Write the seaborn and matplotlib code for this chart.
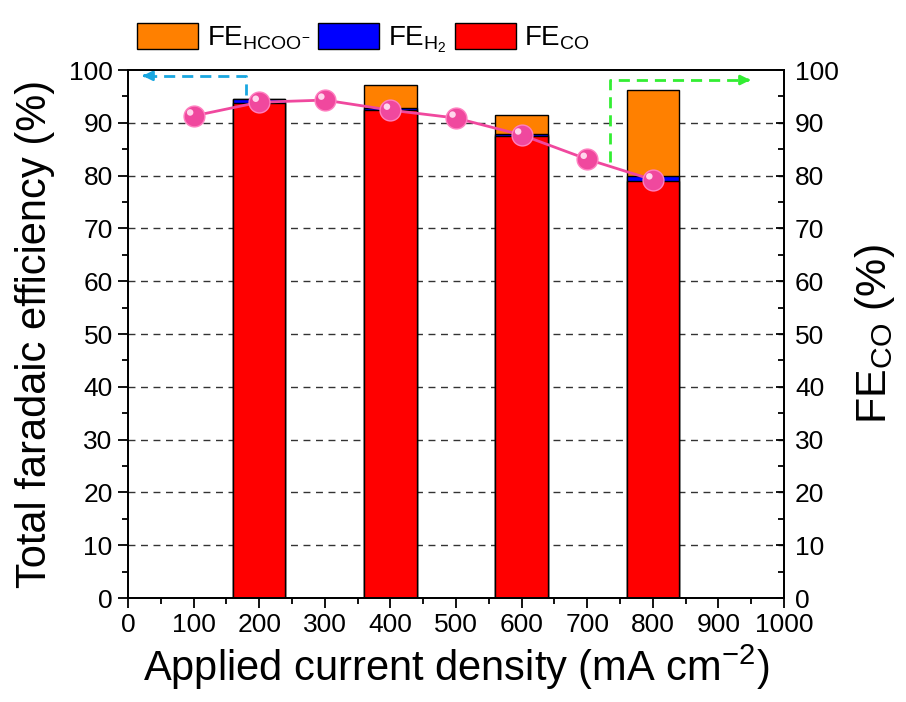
import numpy as np
import pandas as pd
import matplotlib
matplotlib.use("Agg")
import matplotlib.pyplot as plt
import matplotlib.transforms as mtransforms
from matplotlib.patches import Patch
import seaborn as sns

# Faradaic efficiencies at each applied current density (mA cm-2)
bar_density = [200, 400, 600, 800]
fe_co_bar = [93.8, 92.4, 87.5, 79.0]
fe_h2 = [0.8, 0.4, 0.4, 0.9]
fe_hcoo = [0.0, 4.4, 3.5, 16.4]

line_density = [100, 200, 300, 400, 500, 600, 700, 800]
fe_co_line = [91.3, 93.9, 94.3, 92.4, 90.9, 87.7, 83.1, 79.2]

x_ticks = [0, 100, 200, 300, 400, 500, 600, 700, 800, 900, 1000]
y_ticks = [0, 10, 20, 30, 40, 50, 60, 70, 80, 90, 100]

sns.set_theme(style="ticks")
plt.rcParams["font.family"] = ["Liberation Sans", "DejaVu Sans"]
plt.rcParams["mathtext.fontset"] = "custom"
plt.rcParams["mathtext.rm"] = "Liberation Sans"
plt.rcParams["mathtext.it"] = "Liberation Sans:italic"
plt.rcParams["mathtext.bf"] = "Liberation Sans:bold"
for key in ["text.color", "axes.labelcolor", "xtick.color", "ytick.color", "axes.edgecolor"]:
    plt.rcParams[key] = "black"

c_hcoo, c_h2, c_co = "#ff8000", "#0000ff", "#ff0000"

df = pd.DataFrame({
    "j": bar_density,
    "co": fe_co_bar,
    "co_h2": np.add(fe_co_bar, fe_h2),
    "total": np.add(np.add(fe_co_bar, fe_h2), fe_hcoo),
})

fig = plt.figure(figsize=(9.06, 7.02), dpi=100)
ax = fig.add_axes([128 / 906, 1 - 598 / 702, 656 / 906, 528 / 702])

# stacked bars drawn as overlaid cumulative totals
for col, color in [("total", c_hcoo), ("co_h2", c_h2), ("co", c_co)]:
    sns.barplot(data=df, x="j", y=col, native_scale=True, width=0.4,
                color=color, saturation=1, edgecolor="black", linewidth=1.0,
                ax=ax, zorder=2)

ax.set_xlim(0, 1000)
ax.set_ylim(0, 100)
ax.set_xticks(x_ticks)
ax.set_xticks(np.arange(50, 1000, 100), minor=True)
ax.set_yticks(y_ticks)
ax.set_yticks(np.arange(5, 100, 10), minor=True)
ax.set_xticklabels([str(t) for t in x_ticks], fontsize=19)
ax.set_yticklabels([str(t) for t in y_ticks], fontsize=19)
ax.tick_params(axis="both", which="major", direction="out", length=7, width=1.3, color="black", pad=4)
ax.tick_params(axis="both", which="minor", direction="out", length=4, width=1.3, color="black")
ax.set_axisbelow(True)
for yv in range(10, 100, 10):
    ax.axhline(yv, color="#333333", linestyle=(0, (5, 4)), linewidth=1.0, zorder=0.5)
for s in ax.spines.values():
    s.set_linewidth(1.3)
    s.set_color("black")
ax.set_xlabel(r"Applied current density (mA cm$^{\mathregular{-2}}$)", fontsize=30, labelpad=4)
ax.set_ylabel("Total faradaic efficiency (%)", fontsize=30, labelpad=10)

# CO selectivity on the right axis
ax2 = ax.twinx()
ax2.set_ylim(0, 100)
ax2.set_yticks(y_ticks)
ax2.set_yticks(np.arange(5, 100, 10), minor=True)
ax2.set_yticklabels([str(t) for t in y_ticks], fontsize=19)
ax2.tick_params(axis="y", which="major", direction="in", length=6, width=1.3, pad=8, color="black")
ax2.tick_params(axis="y", which="minor", direction="in", length=4, width=1.3, color="black")
for s in ax2.spines.values():
    s.set_linewidth(1.3)
    s.set_color("black")
ax2.set_ylabel(r"FE$_{\mathregular{CO}}$ (%)", fontsize=31, labelpad=10)

line_df = pd.DataFrame({"j": line_density, "fe": fe_co_line})
sns.lineplot(data=line_df, x="j", y="fe", ax=ax2, color="#f0489e", linewidth=2.0,
             marker="o", markersize=15, markerfacecolor="#f0489e",
             markeredgecolor="#ff7fc0", markeredgewidth=1.0, zorder=5)
# glossy highlight on each marker
hl = mtransforms.offset_copy(ax2.transData, fig=fig, x=-2.5, y=2.5, units="points")
ax2.scatter(line_density, fe_co_line, s=22, color="#ffd6ec", edgecolors="none",
            transform=hl, zorder=6)
ax2.set_xlabel("")
ax2.set_xlim(0, 1000)

# axis pointers
ax.plot([180, 180, 24], [95.2, 98.9, 98.9], color="#1aa7e0", linestyle=(0, (4, 2.5)),
        linewidth=2.0, zorder=4, clip_on=False)
ax.annotate("", xy=(18, 98.9), xytext=(30, 98.9),
            arrowprops=dict(arrowstyle="-|>", color="#1aa7e0", lw=2.0, mutation_scale=14))
ax.plot([735, 735, 945], [82.6, 98.1, 98.1], color="#33ee33", linestyle=(0, (4, 2.5)),
        linewidth=2.0, zorder=4, clip_on=False)
ax.annotate("", xy=(953, 98.1), xytext=(940, 98.1),
            arrowprops=dict(arrowstyle="-|>", color="#33ee33", lw=2.0, mutation_scale=14))

handles = [Patch(facecolor=c_hcoo, edgecolor="black", linewidth=1.0),
           Patch(facecolor=c_h2, edgecolor="black", linewidth=1.0),
           Patch(facecolor=c_co, edgecolor="black", linewidth=1.0)]
labels = [r"FE$_{\mathregular{HCOO^{-}}}$", r"FE$_{\mathregular{H_2}}$", r"FE$_{\mathregular{CO}}$"]
fig.legend(handles, labels, loc="upper left", bbox_to_anchor=(126 / 906, 1 - 12 / 702),
           ncol=3, frameon=False, fontsize=20, handlelength=2.2, handleheight=1.05,
           handletextpad=0.3, columnspacing=0.3, borderaxespad=0)

fig.savefig("out.png", dpi=100, facecolor="white")
